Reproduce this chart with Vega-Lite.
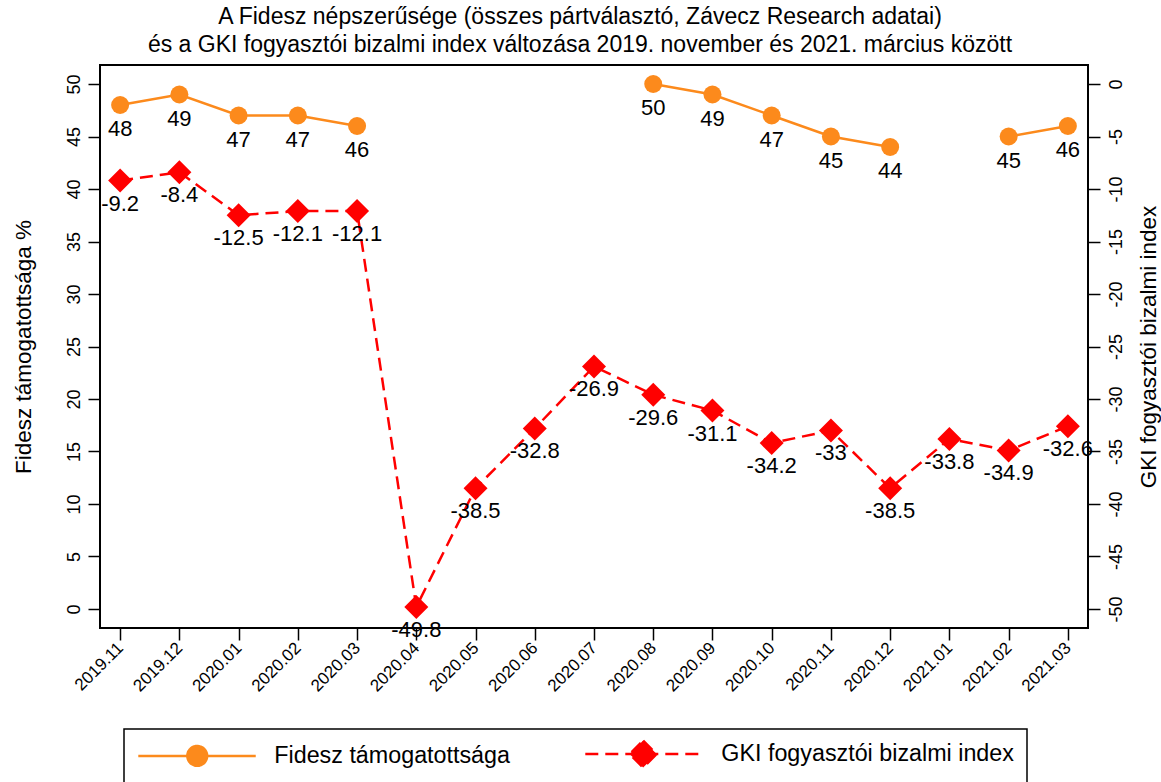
{
  "$schema": "https://vega.github.io/schema/vega-lite/v6.json",
  "width": 988,
  "height": 563,
  "autosize": "none",
  "padding": {"left": 100, "top": 65, "right": 73, "bottom": 154},
  "background": "white",
  "title": {
    "text": ["A Fidesz népszerűsége (összes pártválasztó, Závecz Research adatai)", "és a GKI fogyasztói bizalmi index változása 2019. november és 2021. március között"],
    "font": "Liberation Sans",
    "fontSize": 23,
    "fontWeight": "normal",
    "color": "black",
    "lineHeight": 28,
    "anchor": "middle",
    "dx": -14,
    "offset": 8
  },
  "config": {
    "locale": {"number": {"decimal": ".", "thousands": ",", "grouping": [3], "currency": ["$", ""], "minus": "-"}},
    "view": {"stroke": "black", "strokeWidth": 2},
    "axis": {
      "labelFont": "Liberation Sans",
      "labelFontSize": 18,
      "labelColor": "black",
      "tickColor": "black",
      "tickWidth": 1.5,
      "tickSize": 12,
      "domain": false,
      "grid": false,
      "titleFont": "Liberation Sans",
      "titleFontSize": 22.5,
      "titleFontWeight": "normal",
      "titleColor": "black",
      "labelOverlap": false,
      "labelFlush": false
    }
  },
  "data": {
    "values": [
      {"month": "2019.11", "fidesz": 48, "gki": -9.2},
      {"month": "2019.12", "fidesz": 49, "gki": -8.4},
      {"month": "2020.01", "fidesz": 47, "gki": -12.5},
      {"month": "2020.02", "fidesz": 47, "gki": -12.1},
      {"month": "2020.03", "fidesz": 46, "gki": -12.1},
      {"month": "2020.04", "fidesz": null, "gki": -49.8},
      {"month": "2020.05", "fidesz": null, "gki": -38.5},
      {"month": "2020.06", "fidesz": null, "gki": -32.8},
      {"month": "2020.07", "fidesz": null, "gki": -26.9},
      {"month": "2020.08", "fidesz": 50, "gki": -29.6},
      {"month": "2020.09", "fidesz": 49, "gki": -31.1},
      {"month": "2020.10", "fidesz": 47, "gki": -34.2},
      {"month": "2020.11", "fidesz": 45, "gki": -33},
      {"month": "2020.12", "fidesz": 44, "gki": -38.5},
      {"month": "2021.01", "fidesz": null, "gki": -33.8},
      {"month": "2021.02", "fidesz": 45, "gki": -34.9},
      {"month": "2021.03", "fidesz": 46, "gki": -32.6}
    ]
  },
  "layer": [
    {
      "encoding": {
        "x": {
          "field": "month", "type": "ordinal", "sort": null,
          "scale": {"type": "point", "padding": 0.34},
          "axis": {"title": null, "labelAngle": -45, "labelAlign": "right", "labelBaseline": "middle", "labelFontSize": 17, "labelPadding": 5}
        },
        "y": {
          "field": "fidesz", "type": "quantitative",
          "scale": {"domain": [-1.81, 51.81], "nice": false, "zero": false},
          "axis": {
            "orient": "left",
            "values": [0, 5, 10, 15, 20, 25, 30, 35, 40, 45, 50],
            "title": "Fidesz támogatottsága %",
            "labelAngle": 270, "labelAlign": "center", "labelBaseline": "alphabetic", "labelPadding": 9,
            "titleBaseline": "bottom", "titlePadding": 30
          }
        }
      },
      "layer": [
        {
          "mark": {"type": "line", "strokeWidth": 2.5, "invalid": "break-paths-show-domains"},
          "encoding": {
            "color": {
              "datum": "Fidesz támogatottsága", "type": "nominal",
              "scale": {"domain": ["Fidesz támogatottsága", "GKI fogyasztói bizalmi index"], "range": ["#fc8a1c", "#ff0000"]},
              "legend": {
                "title": null, "orient": "none", "legendX": 24, "legendY": 664, "direction": "horizontal",
                "strokeColor": "black", "fillColor": "white", "padding": 13,
                "labelFont": "Liberation Sans", "labelFontSize": 23.3, "labelColor": "black", "labelLimit": 600,
                "symbolSize": 324, "symbolStrokeWidth": 2.5, "labelOffset": 114, "columnPadding": 70,
                "encode": {
                  "legend": {"update": {"strokeWidth": {"value": 1.5}}},
                  "symbols": {
                    "update": {
                      "shape": {"signal": "datum.value === 'GKI fogyasztói bizalmi index' ? 'M-1.15,0H11.9M5.28,-1.5L6.78,0L5.28,1.5L3.78,0Z' : 'M-1.15,0H11.9M6.5,0A1.1,1.1,0,1,1,4.3,0A1.1,1.1,0,1,1,6.5,0Z'"},
                      "fill": {"signal": "datum.value === 'GKI fogyasztói bizalmi index' ? '#ff0000' : '#fc8a1c'"},
                      "stroke": {"signal": "datum.value === 'GKI fogyasztói bizalmi index' ? '#ff0000' : '#fc8a1c'"},
                      "strokeDash": {"signal": "datum.value === 'GKI fogyasztói bizalmi index' ? [13, 7] : [1, 0]"},
                      "strokeWidth": {"value": 2.5},
                      "opacity": {"value": 1}
                    }
                  }
                }
              }
            }
          }
        },
        {
          "mark": {"type": "point", "shape": "circle", "filled": true, "size": 324, "opacity": 1},
          "encoding": {"color": {"datum": "Fidesz támogatottsága", "type": "nominal"}}
        },
        {
          "mark": {"type": "text", "dy": 24, "font": "Liberation Sans", "fontSize": 22, "color": "black"},
          "encoding": {"text": {"field": "fidesz", "type": "quantitative"}}
        }
      ]
    },
    {
      "encoding": {
        "x": {"field": "month", "type": "ordinal", "sort": null},
        "y": {
          "field": "gki", "type": "quantitative",
          "scale": {"domain": [-51.81, 1.81], "nice": false, "zero": false},
          "axis": {
            "orient": "right",
            "values": [-50, -45, -40, -35, -30, -25, -20, -15, -10, -5, 0],
            "title": "GKI fogyasztói bizalmi index",
            "labelAngle": 270, "labelAlign": "center", "labelBaseline": "top", "labelPadding": 7,
            "titleAngle": 270, "titleBaseline": "top", "titlePadding": 12
          }
        }
      },
      "layer": [
        {
          "mark": {"type": "line", "strokeWidth": 2.5, "strokeDash": [13, 7]},
          "encoding": {"color": {"datum": "GKI fogyasztói bizalmi index", "type": "nominal"}}
        },
        {
          "mark": {"type": "point", "shape": "diamond", "filled": true, "size": 576, "opacity": 1},
          "encoding": {"color": {"datum": "GKI fogyasztói bizalmi index", "type": "nominal"}}
        },
        {
          "mark": {"type": "text", "dy": 23, "font": "Liberation Sans", "fontSize": 22, "color": "black"},
          "encoding": {"text": {"field": "gki", "type": "quantitative"}}
        }
      ]
    }
  ],
  "resolve": {"scale": {"y": "independent"}}
}
